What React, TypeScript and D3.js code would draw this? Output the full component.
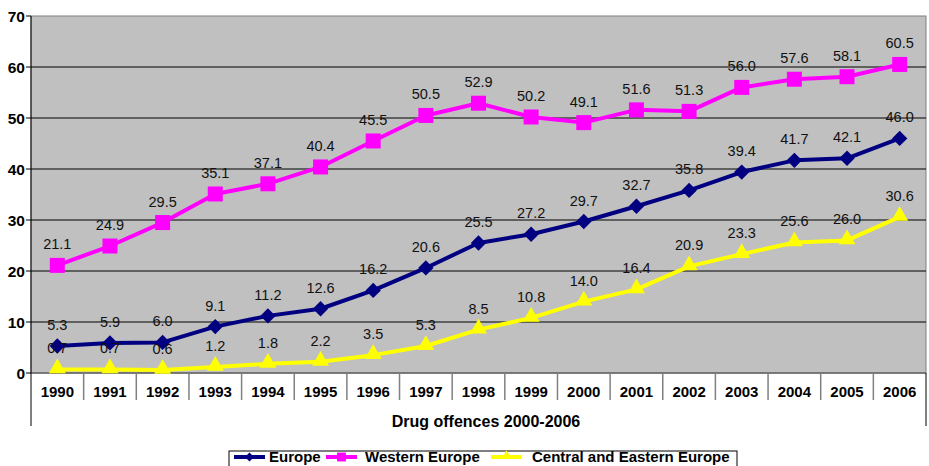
import { line, scaleBand, scaleLinear, symbol, symbolSquare, symbolTriangle } from "d3";
import type { ReactElement } from "react";

const years = ["1990", "1991", "1992", "1993", "1994", "1995", "1996", "1997", "1998", "1999", "2000", "2001", "2002", "2003", "2004", "2005", "2006"];
const europe = [5.3, 5.9, 6.0, 9.1, 11.2, 12.6, 16.2, 20.6, 25.5, 27.2, 29.7, 32.7, 35.8, 39.4, 41.7, 42.1, 46.0];
const westernEurope = [21.1, 24.9, 29.5, 35.1, 37.1, 40.4, 45.5, 50.5, 52.9, 50.2, 49.1, 51.6, 51.3, 56.0, 57.6, 58.1, 60.5];
const centralEastern = [0.7, 0.7, 0.6, 1.2, 1.8, 2.2, 3.5, 5.3, 8.5, 10.8, 14.0, 16.4, 20.9, 23.3, 25.6, 26.0, 30.6];
const yTicks = [0, 10, 20, 30, 40, 50, 60, 70];

const W = 929;
const H = 466;
const LEFT = 31;
const RIGHT = 926;
const TOP = 16;
const BOTTOM = 373;
const FONT = "Liberation Sans, Arial, sans-serif";

type Marker = "diamond" | "square" | "triangle";
type Series = { name: string; values: number[]; color: string; marker: Marker };

const series: Series[] = [
  { name: "Europe", values: europe, color: "#000080", marker: "diamond" },
  { name: "Western Europe", values: westernEurope, color: "#FF00FF", marker: "square" },
  { name: "Central and Eastern Europe", values: centralEastern, color: "#FFFF00", marker: "triangle" },
];

// diamond = square rotated 45deg, so it's as wide as it's tall (like Excel's)
const markerPath = (m: Marker, scale: number): string => {
  if (m === "triangle") return symbol().type(symbolTriangle).size(125 * scale)() ?? "";
  if (m === "square") return symbol().type(symbolSquare).size(225 * scale)() ?? "";
  return symbol().type(symbolSquare).size(118 * scale)() ?? "";
};

const markerTransform = (m: Marker, px: number, py: number): string => {
  if (m === "diamond") return `translate(${px},${py}) rotate(45)`;
  if (m === "triangle") return `translate(${px},${py - 1})`;
  return `translate(${px},${py})`;
};

const App = (): ReactElement => {
  const x = scaleBand<string>().domain(years).range([LEFT, RIGHT]);
  const y = scaleLinear().domain([0, 70]).range([BOTTOM, TOP]);
  const cx = (yr: string): number => (x(yr) ?? 0) + x.bandwidth() / 2;

  const path = line<number>()
    .x((_, i) => cx(years[i]))
    .y((d) => y(d));

  const legendItems = [
    { s: series[0], lx: 234, tx: 269 },
    { s: series[1], lx: 326, tx: 365 },
    { s: series[2], lx: 491, tx: 532 },
  ];

  return (
    <svg
      width={W}
      height={H}
      style={{ position: "absolute", left: 0, top: 0, background: "#fff" }}
      fontFamily={FONT}
    >
      <rect x={LEFT} y={TOP} width={RIGHT - LEFT} height={BOTTOM - TOP} fill="#C0C0C0" stroke="#808080" strokeWidth={1} />

      {yTicks.map((t) => (
        <g key={t}>
          {t > 0 && t < 70 && <line x1={LEFT} x2={RIGHT} y1={y(t)} y2={y(t)} stroke="#000" strokeWidth={1} />}
          <line x1={LEFT - 5} x2={LEFT} y1={y(t)} y2={y(t)} stroke="#000" />
          <text x={LEFT - 6} y={y(t) + 5.5} textAnchor="end" fontSize={15.5} fontWeight="bold">
            {t}
          </text>
        </g>
      ))}

      {/* category table under the axis */}
      <line x1={LEFT} x2={RIGHT} y1={BOTTOM} y2={BOTTOM} stroke="#666" strokeWidth={1.5} />
      {years.map((yr, i) => (
        <g key={yr}>
          {i > 0 && <line x1={x(yr)} x2={x(yr)} y1={BOTTOM} y2={400} stroke="#808080" strokeWidth={1.5} />}
          <text x={cx(yr)} y={397} textAnchor="middle" fontSize={15} fontWeight="bold">
            {yr}
          </text>
        </g>
      ))}
      <line x1={LEFT} x2={LEFT} y1={TOP} y2={426} stroke="#000" strokeWidth={1} />
      <line x1={RIGHT} x2={RIGHT} y1={BOTTOM} y2={426} stroke="#000" strokeWidth={1} />
      <text x={486} y={427} textAnchor="middle" fontSize={16} fontWeight="bold">
        Drug offences 2000-2006
      </text>

      {series.map((s) => (
        <g key={s.name}>
          <path d={path(s.values) ?? ""} fill="none" stroke={s.color} strokeWidth={4} strokeLinejoin="round" />
          {s.values.map((v, i) => (
            <path key={i} d={markerPath(s.marker, 1)} transform={markerTransform(s.marker, cx(years[i]), y(v))} fill={s.color} />
          ))}
          {s.values.map((v, i) => (
            <text key={`l${i}`} x={cx(years[i])} y={y(v) - 16} textAnchor="middle" fontSize={14.5} fill="#111">
              {v.toFixed(1)}
            </text>
          ))}
        </g>
      ))}

      <rect x={229} y={451} width={508} height={22} fill="#fff" stroke="#000" strokeWidth={1} />
      {legendItems.map(({ s, lx, tx }) => (
        <g key={s.name}>
          <line x1={lx} x2={lx + 31} y1={457} y2={457} stroke={s.color} strokeWidth={4} />
          <path d={markerPath(s.marker, 0.35)} transform={markerTransform(s.marker, lx + 15.5, 457)} fill={s.color} />
          <text x={tx} y={462} fontSize={15} fontWeight="bold">
            {s.name}
          </text>
        </g>
      ))}
    </svg>
  );
};

export default App;
